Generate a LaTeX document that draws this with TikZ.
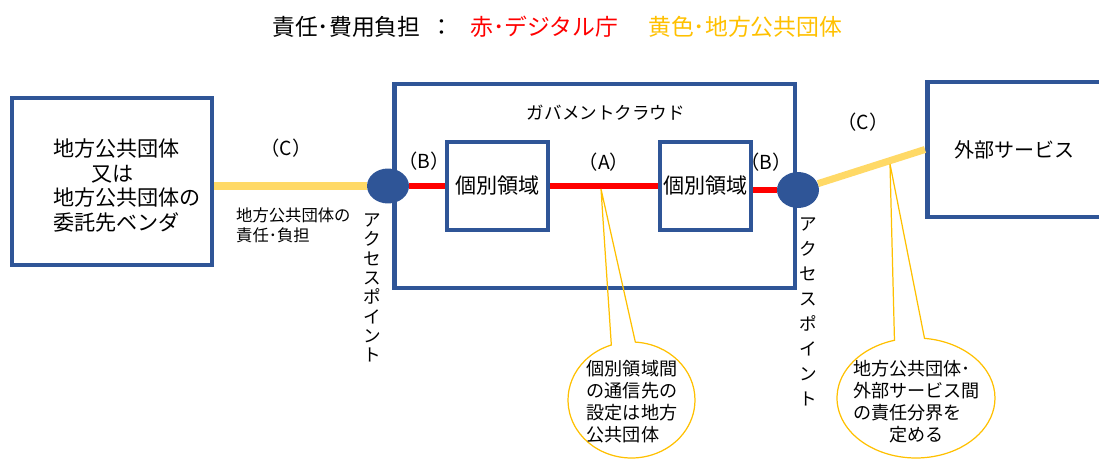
\documentclass[tikz,border=0pt]{standalone}
\usepackage{fontspec}
\setmainfont{Noto Sans CJK JP}
\usetikzlibrary{shapes.geometric,shapes.callouts}
\definecolor{bordo}{RGB}{47,85,151}
\definecolor{giallo}{RGB}{255,217,102}
\definecolor{oro}{RGB}{255,192,0}
\newcommand{\fsz}[2]{\fontsize{#1}{#2}\selectfont}

\begin{document}
\begin{tikzpicture}[x=0.02cm, y=-0.02cm,
		cassa/.style={draw=bordo, line width=2.8pt, inner sep=0pt},
		punto/.style={ellipse, fill=bordo, inner sep=0pt, minimum width=0.84cm, minimum height=0.7cm},
		rosso/.style={draw=red, line width=3.2pt},
		linea/.style={draw=giallo, line width=4pt},
		fumetto/.style={ellipse callout, draw=oro, line width=0.7pt, callout pointer arc=22, inner sep=0pt}]
			%%%	Help Lines
%			\draw [thin, help lines] (0,0) grid[step=50] (1099,459);
			\useasboundingbox (0,0) rectangle (1099,459);
			\clip (0,0) rectangle (1099,459);
			%%%	Titolo
			\node[anchor=west, font=\fsz{13}{15}] (tit) at (266,27) {責任･費用負担\hspace{0.45em}：};
			\node[anchor=west, font=\fsz{13}{15}, text=red] (titR) at (464,27) {赤･デジタル庁};
			\node[anchor=west, font=\fsz{13}{15}, text=oro] (titG) at (642,27) {黄色･地方公共団体};
			%%%	Scatole
			\node[cassa, minimum width=4cm, minimum height=3.34cm] (ente) at (112,181.5) {};
			\node[anchor=west, align=left, font=\fsz{12}{14.2}] (entet) at (47,185.5) {地方公共団体\\\hspace*{1.8em}又は\\地方公共団体の\\委託先ベンダ};
			\node[cassa, minimum width=8.02cm, minimum height=4.08cm] (gc) at (594.5,186) {};
			\node[font=\fsz{10}{12}] (gct) at (606,113) {ガバメントクラウド};
			\node[cassa, minimum width=2.02cm, minimum height=1.76cm, font=\fsz{12}{14}] (k1) at (497.5,186) {個別領域};
			\node[cassa, minimum width=1.82cm, minimum height=1.76cm, font=\fsz{12}{14}] (k2) at (705.5,186) {個別領域};
			\node[cassa, anchor=west, minimum height=2.7cm, inner xsep=0.54cm, text width=2.8cm, align=left, font=\fsz{11.4}{14}] (est) at (925,149.5) {外部サービス};
			%%%	Punti di accesso
			\node[punto] (ap1) at (388,186) {};
			\node[punto, minimum height=0.72cm] (ap2) at (798,190) {};
			%%%	Collegamenti
			\draw[linea] (ente.east |- ap1) -- (ap1);
			\draw[linea] (ap2) -- (est.west);
			\draw[rosso] (ap1) -- (k1);
			\draw[rosso] (k1) -- (k2);
			\draw[rosso] (k2.east |- ap2) -- (ap2);
			%%%	Etichette
			\node[font=\fsz{11}{13}] (b1) at (424,161) {（B）};
			\node[font=\fsz{11}{13}] (a) at (604,162) {（A）};
			\node[font=\fsz{11}{13}] (b2) at (766,162) {（B）};
			\node[font=\fsz{11}{13}] (c1) at (286,148) {（C）};
			\node[font=\fsz{11}{13}] (c2) at (863,122) {（C）};
			\node[anchor=west, align=left, font=\fsz{9.3}{11.3}] (resp) at (230,225) {地方公共団体の\\責任･負担};
			\node[align=center, font=\fsz{10}{11}] (ap1t) at (372,288) {ア\\ク\\セ\\ス\\ポ\\イ\\ン\\ト};
			\node[align=center, font=\fsz{10}{14.2}] (ap2t) at (808,312) {ア\\ク\\セ\\ス\\ポ\\イ\\ン\\ト};
			%%%	Fumetti
			\coordinate (pA) at (601,189);
			\coordinate (pC) at (890,164);
			\node[fumetto, minimum width=2.54cm, minimum height=2.32cm, callout absolute pointer={(pA)}] (fA) at (631.5,400) {};
			\node[align=left, font=\fsz{10.3}{12.5}] (fAt) at (632,402) {個別領域間\\の通信先の\\設定は地方\\公共団体};
			\node[fumetto, minimum width=3.16cm, minimum height=2.4cm, callout absolute pointer={(pC)}] (fC) at (916,398) {};
			\node[align=left, font=\fsz{10.3}{12.5}] (fCt) at (916.5,401.5) {地方公共団体･\\外部サービス間\\の責任分界を\\\hspace*{2em}定める};
\end{tikzpicture}
\end{document}
